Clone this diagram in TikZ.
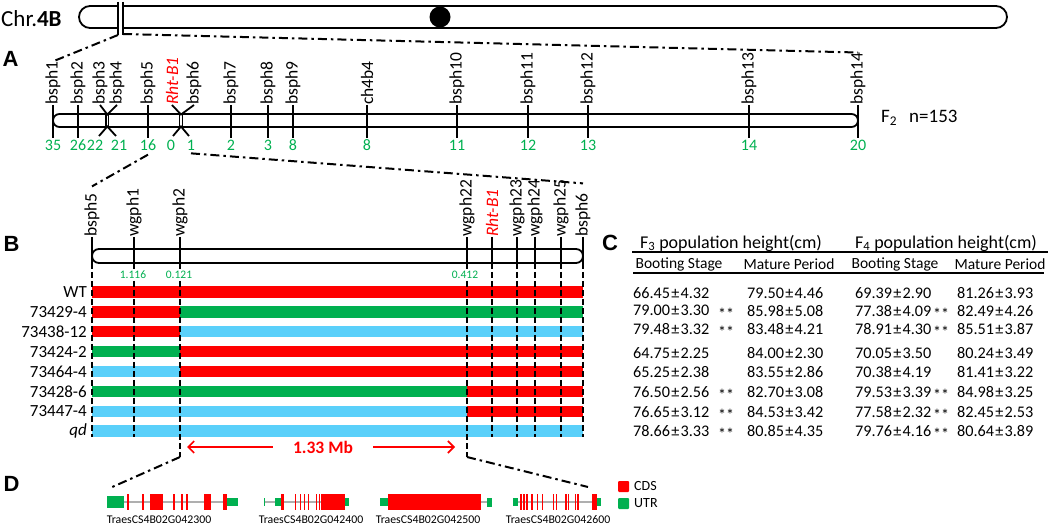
\documentclass[tikz,border=0pt]{standalone}
\usepackage{fontspec}
\setmainfont{Carlito}
\newfontfamily\arialf{Liberation Sans}
\usetikzlibrary{arrows.meta}
\definecolor{cred}{RGB}{255,0,0}
\definecolor{cgreen}{RGB}{0,176,80}
\definecolor{cblue}{RGB}{90,208,250}
\definecolor{cgray}{RGB}{175,175,175}
\newcommand{\fsz}[1]{\fontsize{#1}{#1}\selectfont}
\newcommand{\pmm}{\kern1.2pt±\kern1.2pt}
\begin{document}
\begin{tikzpicture}[x=1pt,y=-1pt,
  mk/.style={rotate=90,anchor=west,inner sep=0pt,font=\fsz{17.5}},
  gnum/.style={text=cgreen,inner sep=0pt,font=\fsz{16}},
  snum/.style={text=cgreen,fill=white,inner sep=1pt,font=\fsz{11.5}},
  chrbar/.style={line width=1.8pt,rounded corners=#1},
  ddot/.style={line width=2pt,dash pattern=on 9pt off 4pt on 2.5pt off 4pt},
  vdash/.style={line width=2pt,dash pattern=on 6pt off 3pt},
  mtick/.style={line width=1.8pt},
  panel/.style={font=\arialf\bfseries\fsz{22},inner sep=0pt},
  geno/.style={anchor=east,inner sep=0pt,font=\fsz{17}},
  cell/.style={anchor=west,inner sep=0pt,font=\fsz{16.2}},
  hdr/.style={inner sep=0pt,font=\fsz{18}},
  shdr/.style={inner sep=0pt,font=\fsz{15.5}},
  stars/.style={inner sep=0pt,font=\fsz{16}},
  cds/.style={fill=cred},
  utr/.style={fill=cgreen},
  gname/.style={inner sep=0pt,font=\fsz{11.8}},
  mbarrow/.style={cred,line width=1.6pt,-{Straight Barb[length=6pt,width=12pt]}},
]
\useasboundingbox (0,0) rectangle (1052,526);
% ---------- chromosome 4B ----------
\node[anchor=west,inner sep=0pt,font=\fsz{23}] (chr) at (1,18.5) {Chr.\textbf{4B}};
\draw[chrbar=11pt] (79,6) rectangle (1007,28);
\fill[white] (118.8,3) rectangle (122.2,31);
\draw[line width=1.4pt] (118,2) -- (118,35) (123,2) -- (123,35);
\node[circle,fill=black,minimum size=21pt,inner sep=0pt] (cen) at (440,17) {};
\coordinate (brkL) at (118,35);
\coordinate (brkR) at (123,34);
% ---------- panel A ----------
\node[panel] (pA) at (10.5,59) {A};
\draw[chrbar=6.5pt] (53,114) rectangle (858,127);
\foreach \n/\x in {1/53,2/78,5/148,7/231,8/268,9/293,10/457,11/528,12/588,13/749,14/858}{
  \node[mk] (a\n) at (\x,105) {bsph\n};
  \draw[mtick] (a\n.west) -- (\x,138);
}
\node[mk] (ach) at (367,105) {ch4b4};
\draw[mtick] (ach.west) -- (367,138);
\node[mk] (a3) at (100,105) {bsph3};
\node[mk] (a4) at (117,105) {bsph4};
\draw[mtick] (a3.west) -- (107.3,114.5) -- (a4.west);
\draw[mtick] (99,136) -- (107.3,126.5) -- (116,136);
\draw[line width=1.4pt] (106,114) -- (106,127) (108.7,114) -- (108.7,127);
\node[mk,text=cred,font=\fsz{17.5}\itshape] (arht) at (172,105) {Rht-B1};
\node[mk] (a6) at (194,105) {bsph6};
\draw[mtick] (arht.west) -- (181,114.5) -- (a6.west);
\draw[mtick] (173,136) -- (181,126.5) -- (189,136);
\draw[line width=1.4pt] (179.5,114) -- (179.5,127) (182.5,114) -- (182.5,127);
\foreach \nm/\x/\v in {n1/53/35,n2/78/26,n3/95/22,n4/119/21,n5/148/16,n6/171/0,n7/191/1,n8/231/2,n9/268/3,n10/293/8,n11/367/8,n12/457/11,n13/528/12,n14/588/13,n15/749/14,n16/858/20}
  \node[gnum] (\nm) at (\x,145) {\v};
\node[anchor=west,inner sep=0pt,font=\fsz{19}] (f2) at (881,118) {F\textsubscript{2}\hspace{12pt}n=153};
\draw[ddot] (brkL) -- (a1.east);
\draw[ddot] (brkR) -- (a14.east);
% ---------- panel B ----------
\node[panel] (pB) at (11.5,243.5) {B};
\foreach \i/\y/\name/\ca/\cb/\cc in {0/292/WT/cred/cred/cred,1/311.9/73429-4/cred/cgreen/cgreen,2/331.7/73438-12/cred/cblue/cblue,3/351.6/73424-2/cgreen/cred/cred,4/371.4/73464-4/cblue/cred/cred,5/391.3/73428-6/cgreen/cgreen/cred,6/411.2/73447-4/cblue/cblue/cred,7/431/\textit{qd}/cblue/cblue/cblue}{
  \fill[\ca] (92,\y-5.7) rectangle (180,\y+5.7);
  \fill[\cb] (180,\y-5.7) rectangle (467,\y+5.7);
  \fill[\cc] (467,\y-5.7) rectangle (583,\y+5.7);
  \node[geno] (g\i) at (87,\y) {\name};
}
\draw[chrbar=7pt] (92,249) rectangle (583,263);
\foreach \nm/\x/\lbl in {b5/92/bsph5,w1/134/wgph1,w2/180/wgph2,w22/467/wgph22,w23/517/wgph23,w24/535/wgph24,w25/561/wgph25,b6/583/bsph6}{
  \node[mk] (\nm) at (\x,237) {\lbl};
  \draw[mtick] (\nm.west) -- (\x,263);
}
\node[mk,text=cred,font=\fsz{17.5}\itshape] (brht) at (492,237) {Rht-B1};
\draw[mtick] (brht.west) -- (492,263);
\foreach \x in {92,134,492,517,535,561,583}
  \draw[vdash] (\x,263) -- (\x,437);
\foreach \x in {180,467}
  \draw[vdash] (\x,263) -- (\x,457);
\node[snum] (s1) at (133,275) {1.116};
\node[snum] (s2) at (179,275) {0.121};
\node[snum] (s3) at (465,275) {0.412};
\draw[ddot] ([yshift=-4pt]n5.south) -- ([yshift=7pt]b5.east);
\draw[ddot] ([yshift=-3pt]n7.south) -- ([yshift=10pt]b6.east);
\node[text=cred,font=\bfseries\fsz{17.5},inner sep=0pt] (mb) at (323,447) {1.33 Mb};
\coordinate (arL) at (187,447);
\coordinate (arR) at (455,447);
\draw[mbarrow] ([xshift=-20pt]mb.west) -- (arL);
\draw[mbarrow] ([xshift=20pt]mb.east) -- (arR);
% ---------- panel C ----------
\node[panel] (pC) at (610,242.5) {C};
\node[hdr] (h3) at (731,243) {F\textsubscript{3} population height(cm)};
\node[hdr] (h4) at (946,243) {F\textsubscript{4} population height(cm)};
\draw[line width=2pt] (632,252) -- (1048,252);
\node[shdr] (sh1) at (679,264) {Booting Stage};
\node[shdr] (sh2) at (789,264) {Mature Period};
\node[shdr] (sh3) at (895,264) {Booting Stage};
\node[shdr] (sh4) at (1000,264) {Mature Period};
\draw[line width=1.3pt] (633,273) -- (1044,273);
\foreach \i/\y/\ca/\sa/\cb/\cc/\sb/\cd in {
 1/292.7/66.45\pmm 4.32/0/79.50\pmm 4.46/69.39\pmm 2.90/0/81.26\pmm 3.93,
 2/310.7/79.00\pmm 3.30/1/85.98\pmm 5.08/77.38\pmm 4.09/1/82.49\pmm 4.26,
 3/329.3/79.48\pmm 3.32/1/83.48\pmm 4.21/78.91\pmm 4.30/1/85.51\pmm 3.87,
 4/353.3/64.75\pmm 2.25/0/84.00\pmm 2.30/70.05\pmm 3.50/0/80.24\pmm 3.49,
 5/372.3/65.25\pmm 2.38/0/83.55\pmm 2.86/70.38\pmm 4.19/0/81.41\pmm 3.22,
 6/392.3/76.50\pmm 2.56/1/82.70\pmm 3.08/79.53\pmm 3.39/1/84.98\pmm 3.25,
 7/412.3/76.65\pmm 3.12/1/84.53\pmm 3.42/77.58\pmm 2.32/1/82.45\pmm 2.53,
 8/430.7/78.66\pmm 3.33/1/80.85\pmm 4.35/79.76\pmm 4.16/1/80.64\pmm 3.89}{
  \node[cell] (ta\i) at (633,\y) {\ca};
  \node[cell] (tb\i) at (747,\y) {\cb};
  \node[cell] (tc\i) at (855,\y) {\cc};
  \node[cell] (td\i) at (957,\y) {\cd};
  \ifnum\sa=1 \node[stars] (sa\i) at (726,\y+3) {**};\fi
  \ifnum\sb=1 \node[stars] (sb\i) at (941,\y+3) {**};\fi
}
% ---------- panel D ----------
\node[panel] (pD) at (11.5,483.5) {D};
\coordinate (dL1) at (180,457); \coordinate (dL2) at (110,488);
\coordinate (dR1) at (467,457); \coordinate (dR2) at (588,487);
\draw[ddot] (dL1) -- (dL2);
\draw[ddot] (dR1) -- (dR2);
% gene 1
\draw[cgray,line width=1.2pt] (124,502) -- (238,502);
\fill[utr] (107,496) rectangle (124,508);
\foreach \a/\b in {126.7/129.3,142.2/143.8,150/162.7,172.7/175,180.7/182.7,186/188.3,204/210.7,223.3/226.7}
  \fill[cds] (\a,494) rectangle (\b,510);
\fill[utr] (226.7,498) rectangle (238.3,506);
\node[gname] (gn1) at (159,520) {TraesCS4B02G042300};
% gene 2
\draw[cgray,line width=1.2pt] (264,502) -- (349,502);
\draw[cgreen,line width=1pt] (264,498) -- (264,506);
\fill[utr] (275,498) rectangle (281,506);
\foreach \a/\b in {281/284,294.5/295.8,299.5/300.8,303.5/304.8,307.5/308.8,316/317.3,318.8/320.1,321/345}
  \fill[cds] (\a,494) rectangle (\b,510);
\fill[utr] (345,498) rectangle (349,506);
\node[gname] (gn2) at (311,520) {TraesCS4B02G042400};
% gene 3
\draw[cgray,line width=1.2pt] (380,502) -- (492,502);
\fill[utr] (380,498) rectangle (388,506);
\fill[cds] (388,494) rectangle (481,510);
\fill[utr] (487,497.5) rectangle (492,506.5);
\node[gname] (gn3) at (428,520) {TraesCS4B02G042500};
% gene 4
\draw[cgray,line width=1.2pt] (513,502) -- (601,502);
\fill[utr] (513,498) rectangle (517.5,506);
\foreach \a/\b in {520/521.7,522.8/524.5,526/527.7,531/532.7,536.5/538.2,541.5/543.2,552.5/554.2,555.5/557.2,565/566.7,567.5/569.2,574.5/576.2,576.8/578.5,591.7/596.7}
  \fill[cds] (\a,494) rectangle (\b,510);
\fill[utr] (596.7,498) rectangle (600.7,506);
\node[gname] (gn4) at (558,520) {TraesCS4B02G042600};
% legend
\fill[cred,rounded corners=1pt] (618,481) rectangle (629,492);
\node[anchor=west,inner sep=0pt,font=\fsz{14}] (lcds) at (634,486.5) {CDS};
\fill[cgreen,rounded corners=1pt] (618,498) rectangle (629,509);
\node[anchor=west,inner sep=0pt,font=\fsz{14}] (lutr) at (634,503.5) {UTR};
\end{tikzpicture}
\end{document}
